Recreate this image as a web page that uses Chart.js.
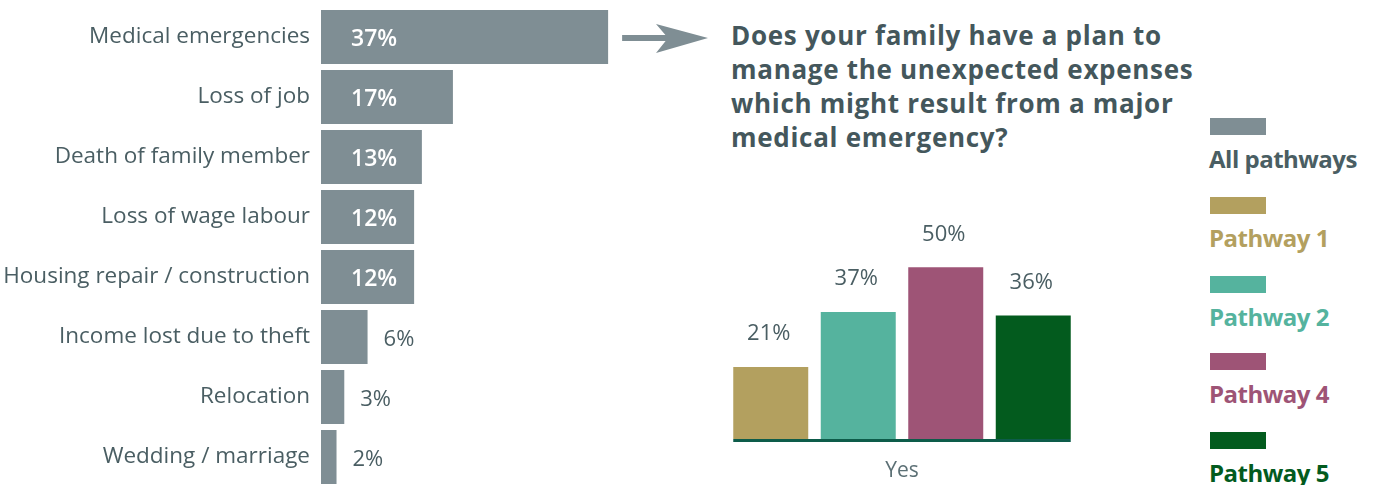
<!DOCTYPE html>
<html>
<head>
<meta charset="utf-8">
<script src="https://cdn.jsdelivr.net/npm/chart.js@4"></script>
<style>
    html, body { margin: 0; padding: 0; background: #fff; overflow: hidden; }
    body { width: 1379px; height: 485px; position: relative; font-family: 'Open Sans', sans-serif; }
    #causesWrap { position: absolute; left: 0; top: 0; width: 720px; height: 490px; }
    #planWrap { position: absolute; left: 700px; top: 180px; width: 400px; height: 305px; }
    .title { position: absolute; left: 731px; top: 18px; font-size: 26px; letter-spacing: 0.7px; font-weight: bold; line-height: 34px; color: #44575c; white-space: nowrap; }
    .legend-box { position: absolute; left: 1210px; width: 56px; height: 17px; }
    .legend-text { position: absolute; left: 1209px; font-size: 24px; letter-spacing: -0.5px; font-weight: bold; line-height: 30px; white-space: nowrap; }
</style>
</head>
<body>
<div id="causesWrap"><canvas id="causesChart"></canvas></div>
<div class="title">Does your family have a plan to<br>manage the unexpected expenses<br>which might result from a major<br>medical emergency?</div>
<div id="planWrap"><canvas id="planChart"></canvas></div>
<div id="legend"></div>

<script>
// Causes of unexpected expenses
const causes = ['Medical emergencies', 'Loss of job', 'Death of family member', 'Loss of wage labour',
    'Housing repair / construction', 'Income lost due to theft', 'Relocation', 'Wedding / marriage'];
const causeValues = [37, 17, 13, 12, 12, 6, 3, 2];

// Plan for medical emergency, share answering "Yes"
const planCategories = ['Yes'];
const pathways = ['Pathway 1', 'Pathway 2', 'Pathway 4', 'Pathway 5'];
const planValues = [21, 37, 50, 36];

const legendLabels = ['All pathways', 'Pathway 1', 'Pathway 2', 'Pathway 4', 'Pathway 5'];

const FONT = 'Open Sans';
const GREY = '#7f8e94';
const TEXT = '#4a5e63';
const pathwayColors = ['#b3a05f', '#55b39e', '#9e5476', '#035b1e'];
const legendColors = [GREY, '#b3a05f', '#55b39e', '#9e5476', '#035b1e'];
const legendTextColors = ['#4a5e63', '#b3a05f', '#55b39e', '#9e5476', '#035b1e'];

document.addEventListener('DOMContentLoaded', function() {
    // value labels + arrow for the causes chart
    const causeLabels = {
        id: 'causeLabels',
        afterDatasetsDraw(chart) {
            const ctx = chart.ctx;
            const meta = chart.getDatasetMeta(0);
            ctx.save();
            ctx.textBaseline = 'middle';
            ctx.textAlign = 'left';
            meta.data.forEach((bar, i) => {
                const v = causeValues[i];
                if (v >= 10) {
                    ctx.font = '600 23px ' + FONT;
                    ctx.fillStyle = '#ffffff';
                    ctx.fillText(v + '%', bar.base + 30, bar.y + 2);
                } else {
                    ctx.font = '22px ' + FONT;
                    ctx.fillStyle = TEXT;
                    ctx.fillText(v + '%', bar.x + 16, bar.y + 3);
                }
            });

            // arrow pointing from the top bar to the question
            const top = meta.data[0];
            const y = top.y + 1;
            const x0 = top.x + 14;
            const tip = 708;
            ctx.fillStyle = GREY;
            ctx.fillRect(x0, y - 3, 50, 6);
            ctx.beginPath();
            ctx.moveTo(tip, y);
            ctx.lineTo(tip - 52, y - 14);
            ctx.lineTo(tip - 40, y);
            ctx.lineTo(tip - 52, y + 15);
            ctx.closePath();
            ctx.fill();
            ctx.restore();
        }
    };

    const causesCtx = document.getElementById('causesChart').getContext('2d');
    new Chart(causesCtx, {
        type: 'bar',
        data: {
            labels: causes,
            datasets: [{
                data: causeValues,
                backgroundColor: GREY,
                barPercentage: 0.9,
                categoryPercentage: 1
            }]
        },
        options: {
            indexAxis: 'y',
            responsive: true,
            maintainAspectRatio: false,
            animation: false,
            layout: { padding: { top: 7, bottom: 3, left: 0, right: 88.6 } },
            scales: {
                x: { display: false, min: 0, max: 40 },
                y: {
                    grid: { display: false, drawTicks: false },
                    border: { display: false },
                    ticks: {
                        color: TEXT,
                        padding: 11,
                        font: { family: FONT, size: 22.5 }
                    },
                    afterFit: function(scale) {
                        scale.width = 321;
                        scale.paddingTop = 0;
                        scale.paddingBottom = 0;
                    }
                }
            },
            plugins: {
                legend: { display: false },
                tooltip: { enabled: false }
            }
        },
        plugins: [causeLabels]
    });

    // labels over the pathway bars and the baseline under them
    const planLabels = {
        id: 'planLabels',
        afterDatasetsDraw(chart) {
            const ctx = chart.ctx;
            let left = Infinity, right = -Infinity;
            ctx.save();
            ctx.font = '22px ' + FONT;
            ctx.fillStyle = TEXT;
            ctx.textAlign = 'center';
            ctx.textBaseline = 'middle';
            chart.data.datasets.forEach((ds, i) => {
                const bar = chart.getDatasetMeta(i).data[0];
                ctx.fillText(ds.data[0] + '%', bar.x - 2, bar.y - 33);
                left = Math.min(left, bar.x - bar.width / 2);
                right = Math.max(right, bar.x + bar.width / 2);
            });
            const base = chart.scales.y.getPixelForValue(0);
            ctx.fillStyle = '#0d5c4a';
            ctx.fillRect(left, base, right - left, 3);
            ctx.restore();
        }
    };

    const planCtx = document.getElementById('planChart').getContext('2d');
    new Chart(planCtx, {
        type: 'bar',
        data: {
            labels: planCategories,
            datasets: pathways.map((name, i) => ({
                label: name,
                data: [planValues[i]],
                backgroundColor: pathwayColors[i],
                barPercentage: 0.857,
                categoryPercentage: 1
            }))
        },
        options: {
            responsive: true,
            maintainAspectRatio: false,
            animation: false,
            layout: { padding: { top: 53, bottom: 0, left: 27, right: 23 } },
            scales: {
                y: { display: false, min: 0, max: 60 },
                x: {
                    grid: { display: false, drawTicks: false },
                    border: { display: false },
                    ticks: {
                        color: '#5c7075',
                        padding: 19,
                        font: { family: FONT, size: 21 }
                    },
                    afterFit: function(scale) { scale.height = 46; }
                }
            },
            plugins: {
                legend: { display: false },
                tooltip: { enabled: false }
            }
        },
        plugins: [planLabels]
    });

    // legend: swatch above each name
    const legendTops = [118, 197, 276, 353, 432];
    const legendEl = document.getElementById('legend');
    legendLabels.forEach((name, i) => {
        const box = document.createElement('div');
        box.className = 'legend-box';
        box.style.top = legendTops[i] + 'px';
        box.style.background = legendColors[i];
        legendEl.appendChild(box);
        const txt = document.createElement('div');
        txt.className = 'legend-text';
        txt.style.top = (legendTops[i] + 26) + 'px';
        txt.style.color = legendTextColors[i];
        txt.textContent = name;
        legendEl.appendChild(txt);
    });
});
</script>
</body>
</html>
